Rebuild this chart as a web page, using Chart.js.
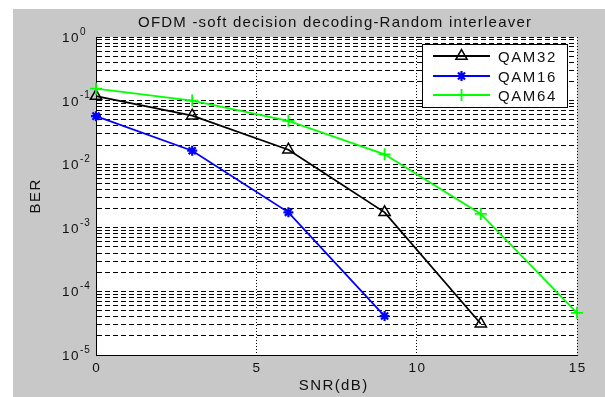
<!DOCTYPE html>
<html><head><meta charset="utf-8">
<script src="https://cdn.jsdelivr.net/npm/chart.js@4.4.1/dist/chart.umd.min.js"></script>
<style>html,body{margin:0;padding:0;background:#fff;}#wrap{width:605px;height:397px;}canvas{display:block;}</style>
</head><body><div id="wrap"><canvas id="c" width="605" height="397"></canvas></div>
<script>
// ---- data ----
const titleText = 'OFDM -soft decision decoding-Random interleaver';
const xTitle = 'SNR(dB)';
const yTitle = 'BER';
const seriesNames = ['QAM32', 'QAM16', 'QAM64'];
const snr32 = [0, 3, 6, 9, 12];
const ber32 = [0.118, 0.058, 0.0169, 0.00175, 3.1e-5];
const snr16 = [0, 3, 6, 9];
const ber16 = [0.057, 0.0163, 0.00175, 4.1e-5];
const snr64 = [0, 3, 6, 9, 12, 15];
const ber64 = [0.154, 0.1, 0.048, 0.0143, 0.00165, 4.6e-5];
const xTicks = [0, 5, 10, 15];
const yDecadeExps = [0, -1, -2, -3, -4, -5];
const yMinorMult = [1, 2, 3, 4, 5, 6, 7, 8, 9];

const FONT = '"Liberation Sans", Arial, Helvetica, sans-serif';

function pts(xs, ys) { return xs.map((x, i) => ({x: x, y: ys[i]})); }

const yGridVals = [];
for (const e of yDecadeExps.slice().reverse()) {
  if (e === 0) { yGridVals.push(1); continue; }
  for (const m of yMinorMult) yGridVals.push(m * Math.pow(10, e));
}

function drawText(ctx, s, x, y, size, align, ls) {
  ctx.font = size + 'px ' + FONT;
  try { ctx.letterSpacing = '0px'; } catch (e) {}
  const w0 = ctx.measureText(s).width;
  const total = w0 + ls * (s.length - 1);
  let x0 = x;
  if (align === 'center') x0 = x - total / 2;
  else if (align === 'right') x0 = x - total;
  try { ctx.letterSpacing = ls + 'px'; } catch (e) {}
  ctx.textAlign = 'left';
  ctx.textBaseline = 'alphabetic';
  ctx.fillText(s, x0, y);
  try { ctx.letterSpacing = '0px'; } catch (e) {}
  return total + ls;
}

const bgPlugin = {
  id: 'bg',
  beforeDraw(chart) {
    const ctx = chart.ctx, a = chart.chartArea;
    ctx.save();
    ctx.fillStyle = '#ffffff';
    ctx.fillRect(0, 0, chart.width, chart.height);
    ctx.fillStyle = '#c8c8c8';
    ctx.fillRect(13, 9, chart.width - 13, chart.height - 9);
    ctx.fillStyle = '#ffffff';
    ctx.fillRect(a.left, a.top, a.right - a.left, a.bottom - a.top);
    ctx.restore();
  }
};

const textPlugin = {
  id: 'texts',
  afterDraw(chart) {
    const ctx = chart.ctx;
    const xs = chart.scales.x, ys = chart.scales.y;
    ctx.save();
    ctx.fillStyle = '#111';
    // title
    drawText(ctx, titleText, 334.5, 26.5, 15, 'center', 1.2);
    // x tick labels
    for (const v of xTicks) {
      drawText(ctx, String(v), xs.getPixelForValue(v), 372, 13.5, 'center', 1.5);
    }
    // x title
    drawText(ctx, xTitle, 333, 390, 15, 'center', 1.4);
    // y tick labels 10^e
    for (const e of yDecadeExps) {
      const py = ys.getPixelForValue(Math.pow(10, e));
      const w = drawText(ctx, '10', 62, py + 5, 13.5, 'left', 1.5);
      drawText(ctx, String(e), 62 + w, py - 2.2, 10, 'left', 1);
    }
    // y title
    ctx.save();
    ctx.translate(35, 196.5);
    ctx.rotate(-Math.PI / 2);
    drawText(ctx, yTitle, 0, 5.4, 15, 'center', 1.5);
    ctx.restore();
    // legend
    const bx = 422, by = 44, bw = 145, bh = 63;
    ctx.fillStyle = '#fff';
    ctx.fillRect(bx, by, bw, bh);
    ctx.strokeStyle = '#000';
    ctx.lineWidth = 1;
    ctx.strokeRect(bx + 0.5, by + 0.5, bw, bh);
    const rows = [56, 76, 95];
    chart.data.datasets.forEach((ds, i) => {
      const ry = rows[i];
      ctx.strokeStyle = ds.borderColor;
      ctx.lineWidth = ds.borderWidth;
      ctx.beginPath();
      ctx.moveTo(433, ry);
      ctx.lineTo(490, ry);
      ctx.stroke();
      ctx.fillStyle = ds.pointBackgroundColor;
      ctx.strokeStyle = ds.borderColor;
      ctx.lineWidth = ds.pointBorderWidth;
      Chart.helpers.drawPoint(ctx, {pointStyle: ds.pointStyle, radius: ds.pointRadius, rotation: 0, borderWidth: ds.pointBorderWidth}, 461.5, ry);
      ctx.fillStyle = '#111';
      drawText(ctx, ds.label, 498, ry + 5.5, 15, 'left', 1.6);
    });
    ctx.restore();
  }
};

new Chart(document.getElementById('c'), {
  type: 'line',
  data: {
    datasets: [
      {label: seriesNames[0], data: pts(snr32, ber32), borderColor: '#000000', borderWidth: 1.8,
       pointStyle: 'triangle', pointRadius: 6.5, pointBorderWidth: 1.5, pointBackgroundColor: 'rgba(255,255,255,0)',
       pointBorderColor: '#000000', tension: 0, clip: false, order: 2},
      {label: seriesNames[1], data: pts(snr16, ber16), borderColor: '#0000ff', borderWidth: 1.8,
       pointStyle: 'star', pointRadius: 5, pointBorderWidth: 2.2, pointBackgroundColor: '#0000ff',
       pointBorderColor: '#0000ff', tension: 0, clip: false, order: 1},
      {label: seriesNames[2], data: pts(snr64, ber64), borderColor: '#00ff00', borderWidth: 1.8,
       pointStyle: 'cross', pointRadius: 6, pointBorderWidth: 1.8, pointBackgroundColor: '#00ff00',
       pointBorderColor: '#00ff00', tension: 0, clip: false, order: 0}
    ]
  },
  options: {
    responsive: false,
    devicePixelRatio: 1,
    animation: false,
    events: [],
    layout: {padding: {left: 0, top: 37, right: 28, bottom: 0}},
    plugins: {legend: {display: false}, title: {display: false}, tooltip: {enabled: false}},
    scales: {
      x: {
        type: 'linear', min: 0, max: 15,
        ticks: {display: false},
        afterBuildTicks(s) { s.ticks = xTicks.map(v => ({value: v})); },
        afterFit(s) { s.height = 42; },
        grid: {color: '#000', lineWidth: 1, drawTicks: false},
        border: {display: true, color: '#000', width: 1, dash: [1, 2]}
      },
      y: {
        type: 'logarithmic', min: 1e-5, max: 1,
        ticks: {display: false},
        afterBuildTicks(s) { s.ticks = yGridVals.map(v => ({value: v})); },
        afterFit(s) { s.width = 96; },
        grid: {color: '#000', lineWidth: 1, drawTicks: false},
        border: {display: true, color: '#000', width: 1, dash: [5, 3]}
      }
    }
  },
  plugins: [bgPlugin, textPlugin]
});
</script>
</body></html>
